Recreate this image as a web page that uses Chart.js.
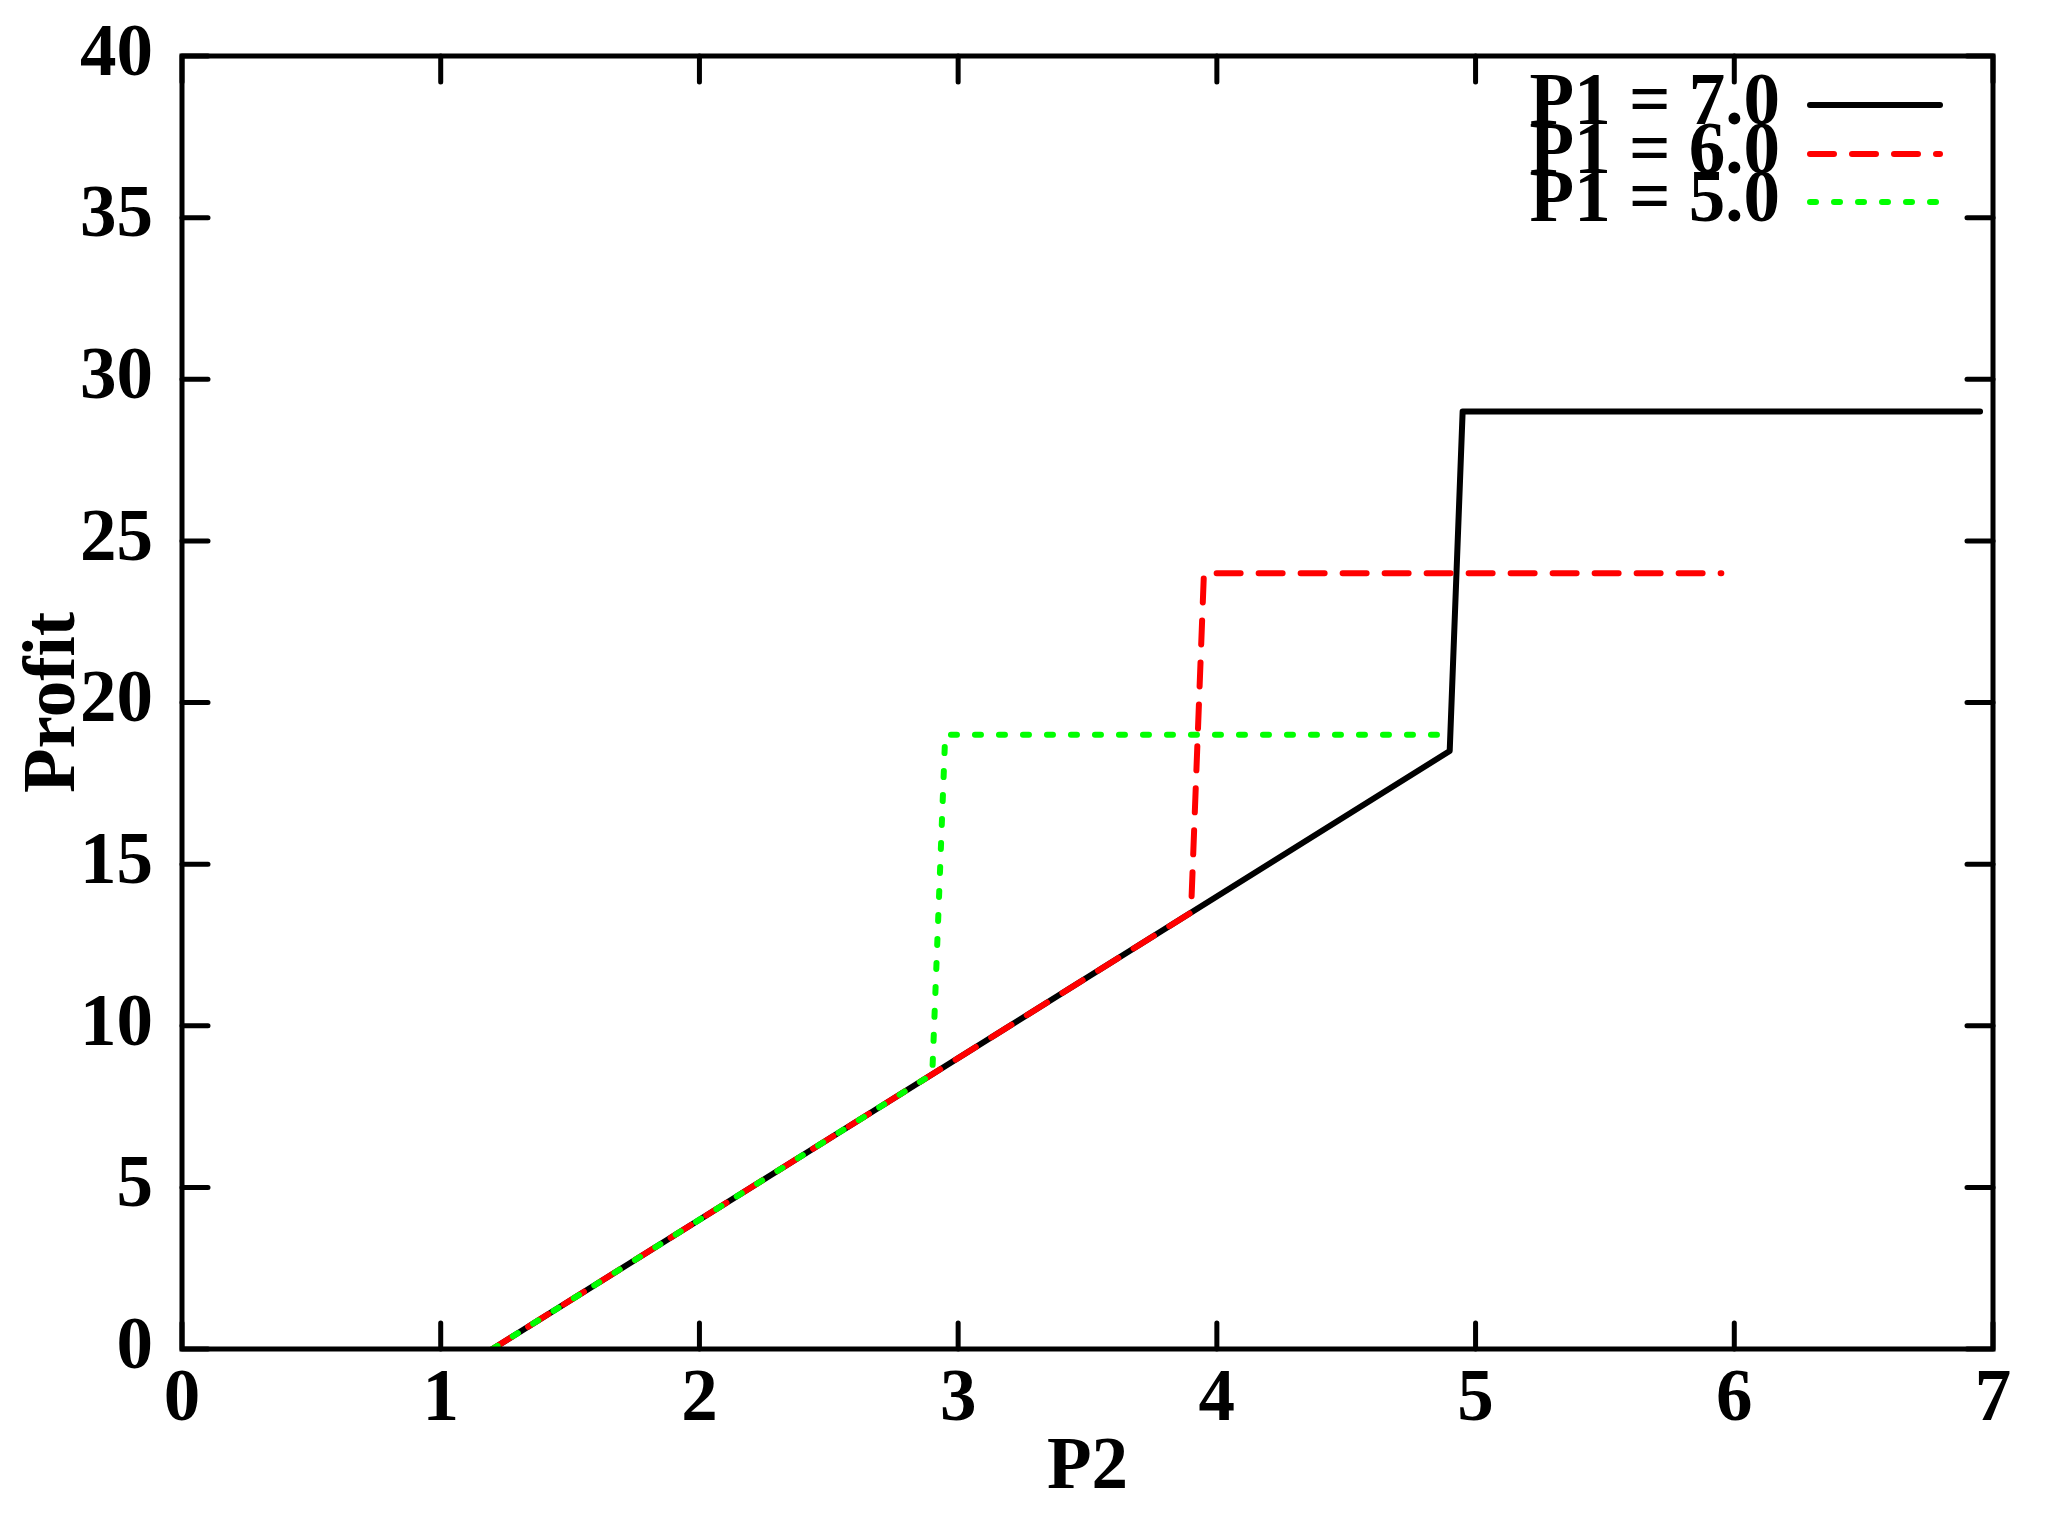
<!DOCTYPE html>
<html>
<head>
<meta charset="utf-8">
<script src="https://cdn.jsdelivr.net/npm/chart.js@4"></script>
<style>
    html, body { margin: 0; padding: 0; background: #fff; }
    #wrap { width: 2048px; height: 1515px; position: relative; }
</style>
</head>
<body>
<div id="wrap"><canvas id="profitChart"></canvas></div>
<script>
// P2 の値と利益（折れ点のみ）
const labels = ['P1 = 7.0', 'P1 = 6.0', 'P1 = 5.0'];
const colors = ['#000000', '#ff0000', '#00ff00'];
const dashes = [[], [24, 18], [6, 18]];

const p2Seven = [1.2, 4.9, 4.95, 6.95];
const profitSeven = [0, 18.5, 29, 29];
const p2Six = [1.2, 3.9, 3.95, 5.95];
const profitSix = [0, 13.5, 24, 24];
const p2Five = [1.2, 2.9, 2.95, 4.9];
const profitFive = [0, 8.5, 19, 19];

const xTicks = [0, 1, 2, 3, 4, 5, 6, 7];
const yTicks = [0, 5, 10, 15, 20, 25, 30, 35, 40];

const FONT = { family: "'Liberation Serif', 'DejaVu Serif', serif", size: 73, weight: 'bold' };

function toPoints(xs, ys) {
    return xs.map((x, i) => ({ x: x, y: ys[i] }));
}

// 枠と内向きの目盛り（gnuplot風、上と右にもミラー）
const framePlugin = {
    id: 'frame',
    afterDraw(chart) {
        const { ctx, chartArea: a, scales } = chart;
        const len = 26;
        ctx.save();
        ctx.strokeStyle = '#000';
        ctx.lineWidth = 5;
        ctx.lineCap = 'round';
        ctx.beginPath();
        xTicks.forEach(v => {
            const px = scales.x.getPixelForValue(v);
            ctx.moveTo(px, a.bottom); ctx.lineTo(px, a.bottom - len);
            ctx.moveTo(px, a.top); ctx.lineTo(px, a.top + len);
        });
        yTicks.forEach(v => {
            const py = scales.y.getPixelForValue(v);
            ctx.moveTo(a.left, py); ctx.lineTo(a.left + len, py);
            ctx.moveTo(a.right, py); ctx.lineTo(a.right - len, py);
        });
        ctx.stroke();
        ctx.lineCap = 'square';
        ctx.strokeRect(a.left, a.top, a.right - a.left, a.bottom - a.top);
        ctx.restore();
    }
};

// 凡例（右上、行間が詰まっている）
const legendPlugin = {
    id: 'gnuLegend',
    afterDraw(chart) {
        const { ctx } = chart;
        const textRight = 1780;
        const lineStart = 1810;
        const lineEnd = 1940;
        const rowY = [105, 154, 202];
        ctx.save();
        ctx.font = `${FONT.weight} ${FONT.size}px ${FONT.family}`;
        ctx.textAlign = 'right';
        ctx.textBaseline = 'middle';
        ctx.fillStyle = '#000';
        chart.data.datasets.forEach((ds, i) => {
            ctx.fillText(ds.label, textRight, rowY[i]);
        });
        chart.data.datasets.forEach((ds, i) => {
            ctx.strokeStyle = ds.borderColor;
            ctx.lineWidth = ds.borderWidth;
            ctx.lineCap = 'round';
            ctx.setLineDash(ds.borderDash);
            ctx.beginPath();
            ctx.moveTo(lineStart, rowY[i]);
            ctx.lineTo(lineEnd, rowY[i]);
            ctx.stroke();
        });
        ctx.restore();
    }
};

const allX = [p2Seven, p2Six, p2Five];
const allY = [profitSeven, profitSix, profitFive];

const datasets = labels.map((label, i) => ({
    label: label,
    data: toPoints(allX[i], allY[i]),
    borderColor: colors[i],
    backgroundColor: colors[i],
    borderWidth: 6,
    borderDash: dashes[i],
    borderCapStyle: 'round',
    borderJoinStyle: 'round',
    pointRadius: 0,
    tension: 0,
    fill: false,
    order: 3 - i
}));

const config = {
    type: 'line',
    data: { datasets: datasets },
    options: {
        responsive: false,
        animation: false,
        devicePixelRatio: 1,
        layout: { padding: { top: 56, right: 55, left: 0, bottom: 0 } },
        plugins: {
            legend: { display: false },
            tooltip: { enabled: false }
        },
        scales: {
            x: {
                type: 'linear',
                min: 0,
                max: 7,
                afterBuildTicks: s => { s.ticks = xTicks.map(v => ({ value: v })); },
                afterFit: s => { s.height = 166; s.paddingLeft = 0; s.paddingRight = 0; },
                grid: { display: false, drawTicks: false },
                border: { display: false },
                ticks: { color: '#000', font: FONT, padding: 8, maxRotation: 0 },
                title: { display: true, text: 'P2', color: '#000', font: FONT, padding: { top: 0, bottom: 2 } }
            },
            y: {
                type: 'linear',
                min: 0,
                max: 40,
                afterBuildTicks: s => { s.ticks = yTicks.map(v => ({ value: v })); },
                afterFit: s => { s.width = 182; s.paddingTop = 0; s.paddingBottom = 0; },
                grid: { display: false, drawTicks: false },
                border: { display: false },
                ticks: { color: '#000', font: FONT, padding: 29 },
                title: { display: true, text: 'Profit', color: '#000', font: FONT, padding: { top: 11, bottom: 0 } }
            }
        }
    },
    plugins: [framePlugin, legendPlugin]
};

const canvas = document.getElementById('profitChart');
canvas.width = 2048;
canvas.height = 1515;
new Chart(canvas.getContext('2d'), config);
</script>
</body>
</html>
